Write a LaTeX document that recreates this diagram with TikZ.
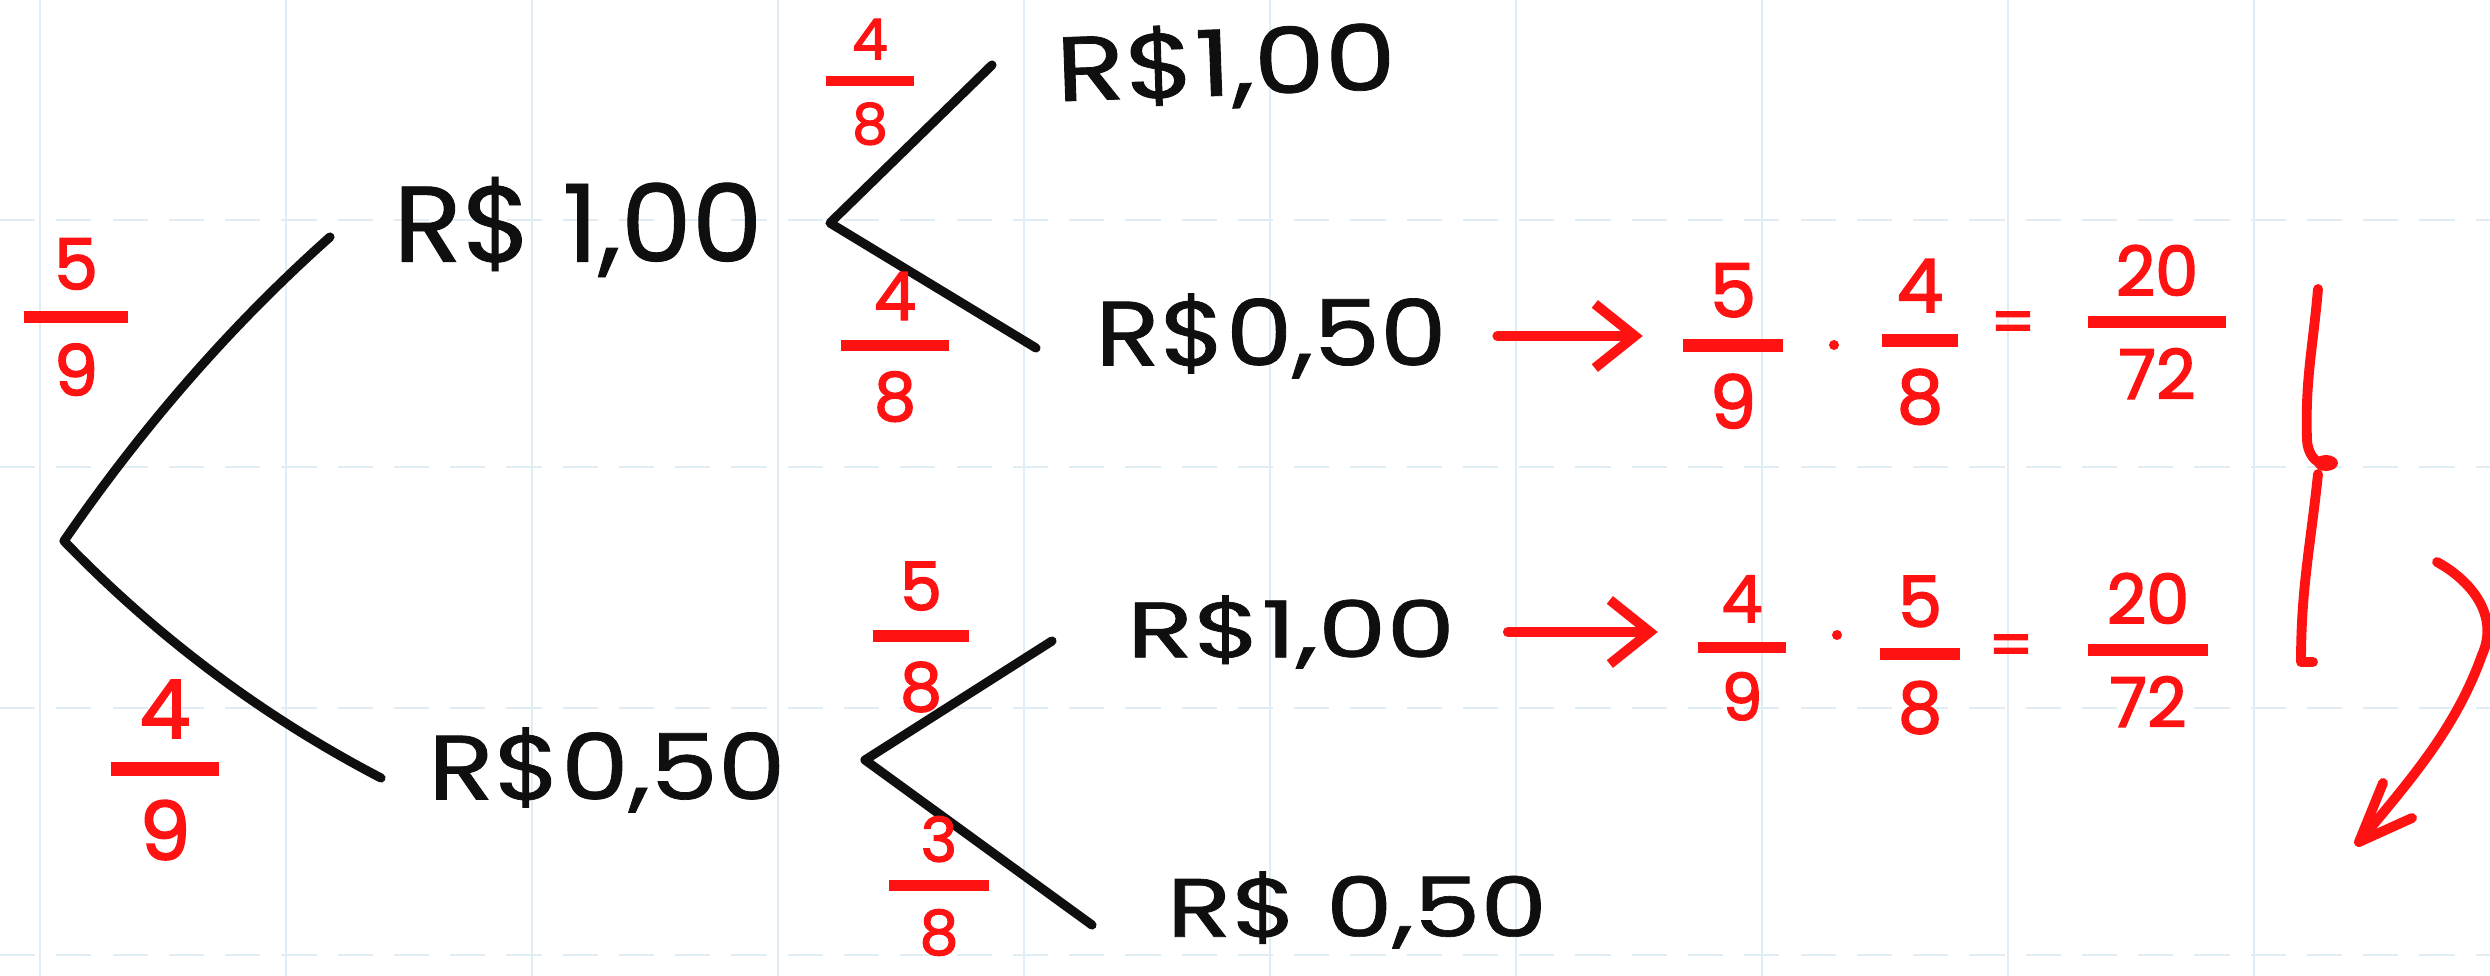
\documentclass[tikz,border=0pt]{standalone}
\usepackage{fontspec}
\setmainfont{Poppins}
\newfontfamily\inkfont[FakeBold=0.8]{Poppins}
\newfontfamily\penfont[FakeBold=2.2]{Poppins}
\usepackage{graphicx}
\usetikzlibrary{arrows.meta}
\definecolor{inkc}{RGB}{15,15,15}
\definecolor{penc}{RGB}{255,18,18}
\definecolor{gridc}{RGB}{224,237,245}
\newcommand{\fr}[3]{\vbox{\hbox to #1{\hss#2\hss}\kern0.3em\hrule height0.17em\kern0.3em\hbox to #1{\hss#3\hss}}}
\newcommand{\hw}[3]{\resizebox*{#1}{#2}{\inkfont #3}}
\begin{document}
\begin{tikzpicture}[x=0.01cm,y=-0.01cm,
  ink/.style={draw=inkc, line width=2.6pt, line cap=round, line join=round},
  pen/.style={draw=penc, line width=2.8pt, line cap=round, line join=round},
  money/.style={text=inkc, inner sep=0pt, anchor=center},
  frac/.style={text=penc, inner sep=0pt, anchor=center, font=\penfont\fontsize{#1}{24}\selectfont},
  gridv/.style={draw=gridc, line width=0.8pt},
  gridh/.style={draw=gridc, line width=0.8pt, dash pattern=on 10pt off 6pt},
  barb/.style={-{Straight Barb[length=4mm,width=6.4mm]}}
]
\useasboundingbox (0,0) rectangle (2490,976);
\fill[white] (0,0) rectangle (2490,976);
\foreach \gx in {40,286,...,2260} \draw[gridv] (\gx,0) -- (\gx,976);
\foreach \gy in {220,467,708,955} \draw[gridh] (0,\gy) -- (2490,\gy);

% money nodes
\node[money] (a) at (578,227) {\hw{3.69cm}{1.0cm}{R\$ 1,00}};
\node[money] (b) at (607,770) {\hw{3.57cm}{0.85cm}{R\$0,50}};
\node[money, rotate=2] (c) at (1226,66) {\hw{3.40cm}{0.85cm}{R\$1,00}};
\node[money] (d) at (1271,336) {\hw{3.51cm}{0.85cm}{R\$0,50}};
\node[money] (e) at (1291,632) {\hw{3.28cm}{0.73cm}{R\$1,00}};
\node[money] (f) at (1357,910) {\hw{3.80cm}{0.77cm}{R\$ 0,50}};

% tree
\coordinate (r) at (64,541);
\coordinate (ai) at (330,237);
\coordinate (bi) at (381,778);
\coordinate (v1) at (830,223);
\coordinate (ci) at (992,65);
\coordinate (di) at (1036,348);
\coordinate (v2) at (865,760);
\coordinate (ei) at (1052,641);
\coordinate (fi) at (1092,925);
\draw[ink] (ai) .. controls (229,327) and (141,429) .. (r) .. controls (157,637) and (262,716) .. (bi);
\draw[ink] (ci) -- (v1) -- (di);
\draw[ink] (ei) -- (v2) -- (fi);

% branch fractions
\node[frac=20] (f1) at (76,317) {\fr{1.03cm}{5}{9}};
\node[frac=23] (f2) at (165,770) {\fr{1.07cm}{4}{9}};
\node[frac=16] (f3) at (870,82) {\fr{0.87cm}{4}{8}};
\node[frac=19] (f4) at (895,347) {\fr{1.07cm}{4}{8}};
\node[frac=19] (f5) at (921,637) {\fr{0.96cm}{5}{8}};
\node[frac=17.5] (f6) at (939,886) {\fr{1.00cm}{3}{8}};

% products
\node[frac=21] (f7) at (1733,346) {\fr{0.99cm}{5}{9}};
\node[frac=21] (f8) at (1920,342) {\fr{0.75cm}{4}{8}};
\node[frac=19.5] (f9) at (2157,322) {\fr{1.38cm}{20}{72}};
\node[frac=18.5] (f10) at (1742,648) {\fr{0.87cm}{4}{9}};
\node[frac=20] (f11) at (1920,655) {\fr{0.80cm}{5}{8}};
\node[frac=19.5] (f12) at (2148,650) {\fr{1.19cm}{20}{72}};
\node[frac=18] (q1) at (2013,328) {=};
\node[frac=18] (q2) at (2011,651) {=};
\node[fill=penc, circle, inner sep=0pt, minimum size=0.1cm] (d1) at (1834,345) {};
\node[fill=penc, circle, inner sep=0pt, minimum size=0.1cm] (d2) at (1837,635) {};

% arrows
\draw[pen, barb] ([xshift=0.5cm]d.east) -- ([xshift=-0.4cm]d.east -| f7.west);
\draw[pen, barb] ([xshift=0.52cm]e.east) -- ([xshift=-0.4cm]e.east -| f10.west);

% bracket
\coordinate (k1) at (2318,289);
\coordinate (k2) at (2307,440);
\coordinate (k3) at (2326,463);
\coordinate (k4) at (2318,474);
\coordinate (k5) at (2301,662);
\coordinate (k6) at (2313,662);
\draw[pen] (k1) to[out=-95,in=92] (k2) to[out=-88,in=190] (k3);
\fill[penc] (k3) ellipse [x radius=12, y radius=8];
\draw[pen] (k4) to[out=-96,in=90] (k5) -- (k6);

% curved arrow
\coordinate (s1) at (2437,562);
\coordinate (s2) at (2482,655);
\coordinate (tip) at (2359,842);
\coordinate (w1) at (2383,783);
\coordinate (w2) at (2412,818);
\draw[pen] (s1) .. controls (2470,580) and (2500,615) .. (s2) .. controls (2455,730) and (2410,780) .. (tip);
\draw[pen] (w1) -- (tip) -- (w2);
\end{tikzpicture}
\end{document}
